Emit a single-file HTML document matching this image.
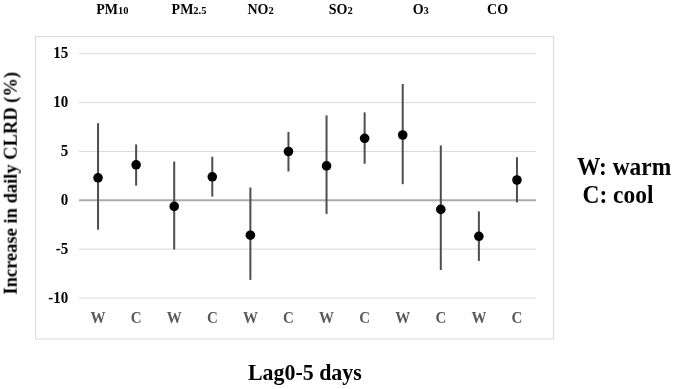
<!DOCTYPE html>
<html><head><meta charset="utf-8"><style>
html,body{margin:0;padding:0;background:#fff;}
body{width:675px;height:389px;overflow:hidden;position:relative;}
svg{position:absolute;left:0;top:0;will-change:transform;}
text{font-family:"Liberation Serif",serif;font-weight:bold;}
.yl{font-size:15px;fill:#000;}
.xl{font-size:15px;fill:#595959;}
.hd{font-size:14px;fill:#000;}
.sub{font-size:10.5px;}
.leg{font-size:23.4px;fill:#000;}
.ax{font-size:21.9px;fill:#000;}
.yt{font-size:18.5px;fill:#000;}
</style></head><body>
<svg width="675" height="389" viewBox="0 0 675 389">
<rect x="35.5" y="36.5" width="518" height="302.5" fill="#fff" stroke="#d9d9d9" stroke-width="1"/>
<line x1="79.0" x2="536.0" y1="53.75" y2="53.75" stroke="#d9d9d9" stroke-width="1"/>
<line x1="79.0" x2="536.0" y1="102.60" y2="102.60" stroke="#d9d9d9" stroke-width="1"/>
<line x1="79.0" x2="536.0" y1="151.45" y2="151.45" stroke="#d9d9d9" stroke-width="1"/>
<line x1="79.0" x2="536.0" y1="249.15" y2="249.15" stroke="#d9d9d9" stroke-width="1"/>
<line x1="79.0" x2="536.0" y1="298.00" y2="298.00" stroke="#d9d9d9" stroke-width="1"/>
<line x1="79.0" x2="536.0" y1="200.30" y2="200.30" stroke="#ababab" stroke-width="2"/>
<line x1="98.04" x2="98.04" y1="123.2" y2="229.7" stroke="#4d4d4d" stroke-width="2"/>
<line x1="136.12" x2="136.12" y1="144.4" y2="185.6" stroke="#4d4d4d" stroke-width="2"/>
<line x1="174.21" x2="174.21" y1="161.5" y2="249.5" stroke="#4d4d4d" stroke-width="2"/>
<line x1="212.29" x2="212.29" y1="156.7" y2="196.6" stroke="#4d4d4d" stroke-width="2"/>
<line x1="250.38" x2="250.38" y1="187.5" y2="279.9" stroke="#4d4d4d" stroke-width="2"/>
<line x1="288.46" x2="288.46" y1="131.9" y2="171.5" stroke="#4d4d4d" stroke-width="2"/>
<line x1="326.54" x2="326.54" y1="115.4" y2="213.9" stroke="#4d4d4d" stroke-width="2"/>
<line x1="364.63" x2="364.63" y1="112.4" y2="163.8" stroke="#4d4d4d" stroke-width="2"/>
<line x1="402.71" x2="402.71" y1="84.0" y2="184.2" stroke="#4d4d4d" stroke-width="2"/>
<line x1="440.79" x2="440.79" y1="145.4" y2="270.0" stroke="#4d4d4d" stroke-width="2"/>
<line x1="478.88" x2="478.88" y1="211.4" y2="260.9" stroke="#4d4d4d" stroke-width="2"/>
<line x1="516.96" x2="516.96" y1="157.2" y2="202.5" stroke="#4d4d4d" stroke-width="2"/>
<circle cx="98.04" cy="177.8" r="4.8" fill="#000"/>
<circle cx="136.12" cy="164.8" r="4.8" fill="#000"/>
<circle cx="174.21" cy="206.4" r="4.8" fill="#000"/>
<circle cx="212.29" cy="176.8" r="4.8" fill="#000"/>
<circle cx="250.38" cy="235.2" r="4.8" fill="#000"/>
<circle cx="288.46" cy="151.5" r="4.8" fill="#000"/>
<circle cx="326.54" cy="165.9" r="4.8" fill="#000"/>
<circle cx="364.63" cy="138.3" r="4.8" fill="#000"/>
<circle cx="402.71" cy="135.0" r="4.8" fill="#000"/>
<circle cx="440.79" cy="209.4" r="4.8" fill="#000"/>
<circle cx="478.88" cy="236.3" r="4.8" fill="#000"/>
<circle cx="516.96" cy="180.0" r="4.8" fill="#000"/>
<text transform="translate(68.3,58.35) scale(1,1.07)" text-anchor="end" class="yl">15</text>
<text transform="translate(68.3,107.20) scale(1,1.07)" text-anchor="end" class="yl">10</text>
<text transform="translate(68.3,156.05) scale(1,1.07)" text-anchor="end" class="yl">5</text>
<text transform="translate(68.3,204.90) scale(1,1.07)" text-anchor="end" class="yl">0</text>
<text transform="translate(68.3,253.75) scale(1,1.07)" text-anchor="end" class="yl">-5</text>
<text transform="translate(68.3,302.60) scale(1,1.07)" text-anchor="end" class="yl">-10</text>
<text transform="translate(98.04,322.6) scale(1,1.1)" text-anchor="middle" class="xl">W</text>
<text transform="translate(136.12,322.6) scale(1,1.1)" text-anchor="middle" class="xl">C</text>
<text transform="translate(174.21,322.6) scale(1,1.1)" text-anchor="middle" class="xl">W</text>
<text transform="translate(212.29,322.6) scale(1,1.1)" text-anchor="middle" class="xl">C</text>
<text transform="translate(250.38,322.6) scale(1,1.1)" text-anchor="middle" class="xl">W</text>
<text transform="translate(288.46,322.6) scale(1,1.1)" text-anchor="middle" class="xl">C</text>
<text transform="translate(326.54,322.6) scale(1,1.1)" text-anchor="middle" class="xl">W</text>
<text transform="translate(364.63,322.6) scale(1,1.1)" text-anchor="middle" class="xl">C</text>
<text transform="translate(402.71,322.6) scale(1,1.1)" text-anchor="middle" class="xl">W</text>
<text transform="translate(440.79,322.6) scale(1,1.1)" text-anchor="middle" class="xl">C</text>
<text transform="translate(478.88,322.6) scale(1,1.1)" text-anchor="middle" class="xl">W</text>
<text transform="translate(516.96,322.6) scale(1,1.1)" text-anchor="middle" class="xl">C</text>
<text x="96.3" y="13.5" class="hd">PM<tspan class="sub">10</tspan></text>
<text x="171.6" y="13.5" class="hd">PM<tspan class="sub">2.5</tspan></text>
<text x="247.5" y="13.5" class="hd">NO<tspan class="sub">2</tspan></text>
<text x="328.8" y="13.5" class="hd">SO<tspan class="sub">2</tspan></text>
<text x="412.7" y="13.5" class="hd">O<tspan class="sub">3</tspan></text>
<text x="487.1" y="13.5" class="hd">CO</text>

<text transform="translate(577.0,174.5) scale(1,1.07)" class="leg">W: warm</text>
<text transform="translate(582.6,203.3) scale(1,1.07)" class="leg">C: cool</text>
<text transform="translate(248.0,380.0) scale(1,1.04)" class="ax">Lag0-5 days</text>
<text transform="translate(16.7,294.6) rotate(-90)" class="yt">Increase in daily CLRD (%)</text>
</svg>
</body></html>
